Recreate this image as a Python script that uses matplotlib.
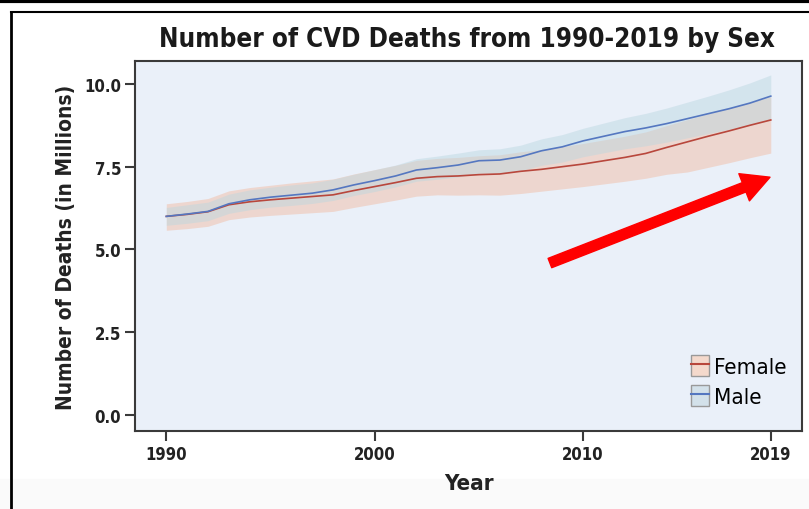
import numpy as np
import matplotlib.pyplot as plt
from matplotlib.patches import Patch, Rectangle
from matplotlib.lines import Line2D
from matplotlib import font_manager

years = list(range(1990, 2020))

# deaths in millions, central estimate and uncertainty bounds
male = [6.00, 6.07, 6.15, 6.38, 6.50, 6.58, 6.64, 6.70, 6.80, 6.95,
        7.08, 7.22, 7.40, 7.47, 7.55, 7.68, 7.70, 7.80, 7.98, 8.10,
        8.28, 8.42, 8.56, 8.67, 8.80, 8.95, 9.10, 9.25, 9.42, 9.63]
male_lo = [5.73, 5.79, 5.87, 6.09, 6.20, 6.28, 6.33, 6.39, 6.48, 6.63,
           6.75, 6.89, 7.06, 7.12, 7.19, 7.30, 7.30, 7.38, 7.54, 7.64,
           7.80, 7.92, 8.04, 8.13, 8.24, 8.37, 8.50, 8.63, 8.78, 8.95]
male_hi = [6.27, 6.35, 6.43, 6.67, 6.80, 6.88, 6.95, 7.01, 7.12, 7.27,
           7.41, 7.55, 7.74, 7.82, 7.91, 8.01, 8.04, 8.15, 8.34, 8.47,
           8.66, 8.82, 8.98, 9.11, 9.27, 9.45, 9.63, 9.82, 10.03, 10.27]

female = [6.00, 6.06, 6.14, 6.35, 6.44, 6.50, 6.55, 6.60, 6.65, 6.78,
          6.90, 7.02, 7.15, 7.20, 7.22, 7.26, 7.28, 7.36, 7.42, 7.50,
          7.58, 7.68, 7.78, 7.90, 8.08, 8.25, 8.42, 8.58, 8.75, 8.91]
female_lo = [5.58, 5.63, 5.70, 5.90, 5.98, 6.03, 6.07, 6.11, 6.15, 6.27,
             6.38, 6.49, 6.61, 6.65, 6.64, 6.65, 6.64, 6.69, 6.76, 6.83,
             6.90, 6.98, 7.06, 7.15, 7.27, 7.34, 7.48, 7.62, 7.77, 7.91]
female_hi = [6.38, 6.45, 6.54, 6.77, 6.87, 6.94, 7.01, 7.07, 7.13, 7.28,
             7.41, 7.54, 7.69, 7.75, 7.78, 7.83, 7.86, 7.95, 8.02, 8.11,
             8.20, 8.31, 8.42, 8.55, 8.74, 8.92, 9.10, 9.27, 9.45, 9.61]

xticks = [1990, 2000, 2010, 2019]
yticks = [0.0, 2.5, 5.0, 7.5, 10.0]

# prefer a condensed face if one is installed
fonts = font_manager.fontManager.ttflist
names = {f.name for f in fonts}
condensed = any(f.name == 'DejaVu Sans' and f.stretch == 'condensed' for f in fonts)
if 'Liberation Sans Narrow' in names:
    plt.rcParams['font.family'] = ['Liberation Sans Narrow', 'DejaVu Sans']
elif condensed:
    plt.rcParams['font.family'] = ['DejaVu Sans']
    plt.rcParams['font.stretch'] = 'condensed'
else:
    plt.rcParams['font.family'] = ['Liberation Sans', 'DejaVu Sans']

fig = plt.figure(figsize=(8.09, 5.10), dpi=100)
ax = fig.add_axes([0.1669, 0.1529, 0.8245, 0.7255])
ax.set_facecolor('#eaf0f9')

f_col, m_col = '#b8473c', '#5577c0'
f_fill, m_fill = '#f2b89c', '#b9d6e0'

ax.fill_between(years, female_lo, female_hi, color=f_fill, alpha=0.45, lw=0)
ax.fill_between(years, male_lo, male_hi, color=m_fill, alpha=0.45, lw=0)
ax.plot(years, female, color=f_col, lw=1.2)
ax.plot(years, male, color=m_col, lw=1.2)

ax.set_xlim(1988.5, 2020.5)
ax.set_ylim(-0.48, 10.69)
ax.set_xticks(xticks)
ax.set_yticks(yticks)
ax.set_yticklabels([f'{v:.1f}' for v in yticks])
for s in ax.spines.values():
    s.set_color('#3a3a3a')
    s.set_linewidth(1.5)
ax.tick_params(direction='out', length=7, width=1.5, color='#3a3a3a',
               labelsize=12, pad=3)
for lab in ax.get_xticklabels() + ax.get_yticklabels():
    lab.set_fontweight('bold')
    lab.set_color('#222222')

ax.set_xlabel('Year', fontsize=16, fontweight='bold', color='#222222', labelpad=7)
ax.set_ylabel('Number of Deaths (in Millions)', fontsize=15, fontweight='bold',
              color='#222222', labelpad=6)
fig.text(0.5766, 0.921, 'Number of CVD Deaths from 1990-2019 by Sex',
         ha='center', va='center', fontsize=18.6, fontweight='bold', color='#1a1a1a')

handles = [(Patch(facecolor='#f4d9cc', edgecolor='#999999'), Line2D([], [], color=f_col, lw=1.5)),
           (Patch(facecolor='#d3e1ea', edgecolor='#999999'), Line2D([], [], color=m_col, lw=1.5))]
ax.legend(handles, ['Female', 'Male'], loc='lower right', frameon=False,
          fontsize=16, handlelength=0.85, handleheight=1.1, handletextpad=0.2,
          labelspacing=0.35, borderaxespad=0.0, bbox_to_anchor=(0.99, 0.04))

# red arrow pointing towards the end of the series
ax.annotate('', xy=(0.952, 0.686), xytext=(0.622, 0.454), xycoords='axes fraction',
            arrowprops=dict(arrowstyle='simple,head_length=1.0,head_width=1.05,tail_width=0.36',
                            color='#ff0000', mutation_scale=20, shrinkA=0, shrinkB=0))

# screenshot frame lines
fig.add_artist(Rectangle((0, 0), 1, 1 - 480 / 510, transform=fig.transFigure,
                         color='#fafafa', zorder=-10))
fig.add_artist(Line2D([0, 1], [0.997, 0.997], transform=fig.transFigure, color='black', lw=3))
fig.add_artist(Line2D([0.0136, 1], [1 - 13 / 510, 1 - 13 / 510], transform=fig.transFigure,
                      color='black', lw=1.5))
fig.add_artist(Line2D([0.0136, 0.0136], [0, 1 - 13 / 510], transform=fig.transFigure,
                      color='black', lw=2))

fig.savefig('out.png', dpi=100)
